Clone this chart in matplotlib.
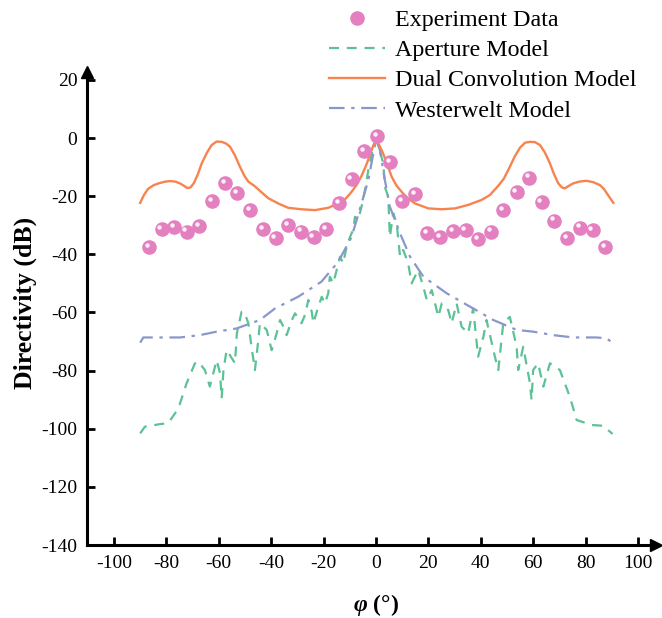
import matplotlib
matplotlib.use("Agg")
import matplotlib.pyplot as plt
import matplotlib.transforms as mtransforms

plt.rcParams['font.family'] = ['Liberation Serif', 'DejaVu Serif']
plt.rcParams['axes.unicode_minus'] = False
plt.rcParams['mathtext.fontset'] = 'custom'
plt.rcParams['mathtext.it'] = 'Liberation Serif:italic:bold'
plt.rcParams['mathtext.rm'] = 'Liberation Serif:bold'

# measured directivity
exp_angle = [-86.6, -81.8, -77.0, -72.3, -67.4, -62.5, -57.6, -52.9, -48.1, -43.0,
             -38.3, -33.5, -28.6, -23.8, -19.0, -14.1, -9.3, -4.6, 0.3,
             5.3, 10.0, 14.9, 19.6, 24.5, 29.4, 34.2, 39.0, 43.9, 48.6,
             53.7, 58.5, 63.2, 68.1, 73.0, 77.9, 82.7, 87.5]
exp_db = [-37.4, -31.3, -30.7, -32.2, -30.3, -21.6, -15.4, -19.0, -24.8, -31.3,
          -34.3, -29.9, -32.2, -34.0, -31.3, -22.3, -14.2, -4.4, 0.7,
          -8.4, -21.6, -19.3, -32.8, -34.0, -32.0, -31.6, -34.8, -32.2, -24.8,
          -18.5, -13.6, -21.9, -28.4, -34.5, -30.8, -31.6, -37.6]

# aperture model
ap_angle = [-90.0, -88.2, -82.4, -79.3, -75.4, -72.3, -69.1, -67.8, -65.3, -63.4,
            -60.8, -59.5, -58.9, -58.2, -57.0, -53.8, -53.1, -51.3, -50.3, -48.7,
            -47.5, -46.2, -44.9, -44.3, -41.7, -39.8, -37.9, -36.6, -34.7, -34.1,
            -32.1, -30.9, -29.6, -28.4, -27.1, -25.8, -24.5, -23.9, -22.0, -20.7,
            -19.5, -18.2, -17.6, -16.3, -15.0, -13.7, -12.5, -11.2, -9.9, -8.7,
            -8.0, -6.8, -5.5, -4.2, -2.9, -1.0, 0.0,
            0.3, 2.8, 3.4, 4.7, 5.3, 6.6, 7.9, 9.2, 10.4, 12.3,
            13.6, 16.1, 18.1, 19.4, 21.3, 23.8, 25.1, 27.6, 28.9, 30.8,
            32.7, 35.2, 37.1, 39.0, 41.0, 42.2, 45.4, 46.7, 48.6, 51.1,
            53.7, 54.3, 56.2, 58.8, 59.4, 60.0, 61.9, 63.9, 66.4, 70.2,
            74.0, 76.6, 82.3, 86.8, 90.3]
ap_db = [-101.6, -99.3, -98.4, -98.1, -93.0, -84.4, -77.5, -76.9, -79.8, -85.5,
         -76.4, -81.0, -89.5, -79.8, -72.9, -77.5, -67.2, -59.8, -59.8, -63.7,
         -71.8, -79.8, -69.5, -63.7, -66.0, -73.0, -67.2, -62.6, -66.0, -67.8,
         -62.6, -60.3, -62.0, -63.7, -60.9, -55.7, -59.8, -63.7, -58.0, -54.6,
         -56.9, -53.4, -47.7, -50.0, -45.4, -40.8, -43.1, -37.4, -34.0, -31.6,
         -27.1, -28.2, -23.6, -17.9, -11.0, -3.0, -0.7,
         -0.7, -8.7, -16.8, -20.2, -34.0, -25.9, -29.3, -40.8, -38.5, -43.1,
         -50.0, -45.4, -51.2, -55.7, -52.3, -61.5, -56.9, -59.2, -63.7, -56.9,
         -64.9, -67.2, -58.6, -75.2, -68.4, -62.6, -75.2, -79.8, -63.7, -61.5,
         -71.8, -79.8, -71.8, -84.4, -90.1, -79.8, -77.5, -85.5, -77.5, -79.8,
         -89.0, -97.0, -98.7, -99.0, -101.8]

# dual convolution model
dc_angle = [-90.0, -88.5, -87.0, -85.0, -83.0, -80.5, -78.6, -76.5, -74.8, -73.0,
            -72.0, -70.8, -69.5, -68.0, -66.5, -64.5, -62.7, -60.8, -58.9, -57.2,
            -55.7, -53.8, -51.9, -50.2, -48.7, -46.2, -43.5, -41.1, -37.3, -33.5,
            -28.4, -23.3, -18.2, -14.4, -11.5, -9.3, -7.3, -5.5, -3.8, -2.3,
            -1.0, 0.0, 1.0, 2.2, 3.4, 4.6, 6.0, 7.8, 9.8, 12.0,
            14.9, 20.0, 25.0, 30.2, 35.2, 40.3, 43.5, 46.7, 48.8, 51.1,
            53.0, 55.0, 56.9, 58.8, 60.7, 62.6, 64.5, 66.4, 68.0, 69.6,
            71.0, 72.1, 73.5, 75.3, 77.5, 80.4, 83.0, 85.5, 87.0, 88.5,
            90.6]
dc_db = [-22.3, -19.5, -17.5, -16.3, -15.6, -15.0, -14.8, -15.0, -15.6, -16.6,
         -17.2, -17.0, -15.5, -12.5, -8.7, -5.0, -2.4, -1.2, -1.3, -1.9,
         -3.0, -6.0, -9.9, -13.0, -15.0, -16.6, -18.8, -20.7, -22.5, -24.0,
         -24.5, -24.8, -24.0, -22.5, -20.8, -18.5, -16.0, -13.0, -9.5, -5.8,
         -2.5, -0.8, -2.0, -4.2, -6.8, -9.8, -13.3, -16.3, -18.5, -20.6,
         -22.5, -24.2, -24.5, -24.2, -23.0, -21.3, -19.6, -16.4, -14.0, -9.9,
         -6.3, -3.3, -1.6, -1.3, -1.4, -2.4, -5.0, -8.7, -12.5, -15.6,
         -17.0, -17.3, -16.5, -15.6, -15.0, -14.7, -15.2, -16.2, -17.5, -19.5,
         -22.3]

# Westerwelt model
ww_angle = [-90.0, -88.8, -81.2, -74.8, -67.2, -60.8, -53.2, -44.3, -38.5, -29.7,
            -20.8, -14.4, -9.3, -5.5, -2.9, 0.0, 1.5, 3.4, 5.3, 9.2,
            13.0, 18.1, 27.0, 35.9, 44.8, 53.7, 60.0, 67.7, 75.3, 84.2,
            88.0, 90.3]
ww_db = [-70.4, -68.6, -68.6, -68.6, -67.8, -66.6, -65.5, -62.6, -58.6, -54.6,
         -49.4, -42.6, -34.0, -22.5, -14.4, -0.5, -4.1, -14.4, -23.6, -32.8,
         -40.8, -47.7, -53.4, -58.0, -62.6, -66.0, -66.6, -67.8, -68.6, -68.6,
         -68.9, -70.4]

x_ticks = list(range(-100, 101, 20))
y_ticks = list(range(-140, 21, 20))

fig = plt.figure(figsize=(6.62, 6.18), dpi=100)
ax = fig.add_axes([0.1314, 0.1181, 0.856, 0.762])

ax.plot(ap_angle, ap_db, color='#5cc296', lw=1.6, ls=(0, (4.5, 3.5)),
        label='Aperture Model', zorder=2)
ax.plot(dc_angle, dc_db, color='#f7834f', lw=1.7, label='Dual Convolution Model', zorder=3)
ax.plot(ww_angle, ww_db, color='#8a97cc', lw=1.6, ls=(0, (7, 3, 1.5, 3)),
        label='Westerwelt Model', zorder=2)

# shaded spheres: pink body plus a small white glint up and to the left
ax.plot(exp_angle, exp_db, 'o', ms=10.5, color='#e47fc0', mec='none', zorder=4)
glint = mtransforms.offset_copy(ax.transData, fig=fig, x=-2.2, y=2.2, units='dots')
ax.plot(exp_angle, exp_db, 'o', ms=3.2, color='white', mec='none', alpha=0.9,
        transform=glint, zorder=5)

ax.set_xlim(-110.3, 106)
ax.set_ylim(-140, 22)
ax.set_xticks(x_ticks)
ax.set_yticks(y_ticks)
ax.tick_params(direction='in', length=6, width=2, labelsize=14, pad=7)

for side in ['top', 'right']:
    ax.spines[side].set_visible(False)
for side in ['left', 'bottom']:
    ax.spines[side].set_linewidth(2.2)

# arrow heads at the axis ends
ax.plot(1.005, 0, '>', ms=9, color='k', transform=ax.transAxes, clip_on=False)
ax.plot(0, 1.005, '^', ms=9, color='k', transform=ax.transAxes, clip_on=False)

ax.set_ylabel('Directivity (dB)', fontsize=18.5, fontweight='bold')
ax.yaxis.set_label_coords(-0.088, 0.515)
ax.set_xlabel(r'$\varphi$ (°)', fontsize=17, fontweight='bold')
ax.xaxis.set_label_coords(110.3 / 216.3, -0.1)

# legend sits above the top of the plot
sphere = plt.Line2D([], [], ls='none', marker='o', ms=10.5, color='#e47fc0', mec='none')
handles, labels = ax.get_legend_handles_labels()
fig.legend([sphere] + handles, ['Experiment Data'] + labels,
           loc='upper left', bbox_to_anchor=(0.494, 0.989), frameon=False,
           fontsize=17.3, handlelength=2.3, handletextpad=0.42, labelspacing=0.35,
           borderpad=0.1, borderaxespad=0)

fig.savefig('out.png', dpi=100)
